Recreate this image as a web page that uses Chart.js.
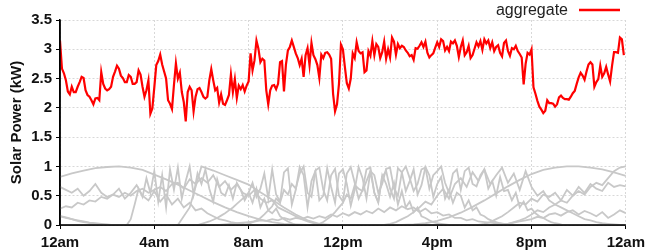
<!DOCTYPE html>
<html>
<head>
<meta charset="utf-8">
<script src="https://cdn.jsdelivr.net/npm/chart.js@4.4.1/dist/chart.umd.min.js"></script>
<style>
html,body{margin:0;padding:0;background:#fff;}
#wrap{width:650px;height:251px;position:relative;}
</style>
</head>
<body>
<div id="wrap"><canvas id="c" width="650" height="251"></canvas></div>
<script>
// ---- data ----
const tickLabels = ['12am','4am','8am','12pm','4pm','8pm','12am'];
const tickHours = [0,4,8,12,16,20,24];

// aggregate, 5-minute samples from 12am
const aggregateStepMin = 5;
const aggregate = [
3.15,2.67,2.59,2.47,2.28,2.23,2.36,2.27,2.27,2.36,
2.44,2.53,2.51,2.30,2.22,2.19,2.13,2.06,2.16,2.17,
2.13,2.61,2.41,2.33,2.30,2.32,2.36,2.53,2.62,2.72,
2.67,2.55,2.51,2.44,2.44,2.56,2.53,2.41,2.41,2.44,
2.64,2.57,2.36,2.19,2.30,2.47,1.90,1.99,2.35,
2.73,2.80,2.91,2.74,2.62,2.50,2.13,2.07,1.98,2.39,
2.76,2.50,2.60,2.27,2.10,1.77,2.27,2.36,2.30,1.94,
2.19,2.32,2.34,2.27,2.19,2.16,2.19,2.47,2.66,2.47,
2.30,2.34,2.09,2.23,2.07,2.05,2.13,2.22,2.57,2.27,
2.49,2.17,2.38,2.32,2.39,2.28,2.38,2.45,
2.93,2.64,2.81,3.15,3.01,2.78,2.84,2.81,2.30,2.06,
2.30,2.38,2.39,2.32,2.41,2.78,2.80,2.28,2.74,2.98,
3.04,3.15,3.04,2.93,2.85,2.73,2.84,2.53,2.90,3.02,
2.73,3.11,2.90,2.83,2.73,2.51,2.91,2.85,2.94,2.95,
2.91,2.84,2.24,1.94,2.06,2.41,3.08,3.00,
2.70,2.42,2.33,2.50,2.93,2.85,3.12,2.97,2.93,2.95,
2.61,2.64,2.97,2.89,3.14,2.90,3.09,3.04,2.85,2.95,
3.13,2.84,3.00,2.86,3.20,3.13,2.91,3.09,3.02,3.06,
3.04,2.98,2.94,2.88,2.90,2.82,3.02,3.01,3.06,3.12,
3.04,3.13,2.94,2.86,2.90,2.93,3.03,3.12,
3.04,3.17,3.14,2.98,3.04,2.97,3.13,3.10,3.15,3.06,
2.87,3.04,3.15,2.90,2.95,3.06,2.85,2.90,3.01,3.12,
3.05,3.14,2.99,3.17,3.10,3.15,3.02,3.12,2.97,3.04,
3.07,2.94,2.88,3.11,3.15,2.97,2.89,3.02,3.00,3.06,
2.97,2.92,2.86,2.40,2.75,2.94,2.91,3.00,
2.35,2.24,2.12,2.02,1.97,1.91,1.95,2.13,2.08,2.08,
2.07,2.02,2.06,2.18,2.21,2.17,2.15,2.15,2.14,2.19,
2.25,2.29,2.41,2.52,2.60,2.55,2.48,2.62,2.74,2.78,
2.74,2.36,2.44,2.49,2.72,2.53,2.59,2.70,2.57,2.45,
2.72,2.95,2.95,2.94,3.20,3.17,2.90
];

// individual systems (grey), 30-minute samples
const sys30StepMin = 30;
const sysA = [0.82,0.88,0.93,0.97,0.99,1.00,0.98,0.94,0.86,0.78,0.69,0.59,0.49,0.39,0.30,0.22,0.15,0.09,0.05,0.02,0.01,
0,0,0,0,0,0,0,0,0,
0.01,0.03,0.07,0.13,0.21,0.31,0.42,0.54,0.66,0.77,0.87,0.94,0.98,1.00,1.00,0.98,0.95,0.90,0.84];
const sysB = [0,0,0,0,0,0,0,0,0,0,0,0.30,
1.00,0.93,0.85,0.77,0.69,0.56,0.43,0.30,0.18,0.08,0.02,
0,0,0,0,0,0,0,0,0,0,0,0,0,0,0,0,0,0,0,0,0,0,0,0,0,0];

// individual systems (grey), 10-minute samples
const sys10StepMin = 10;
const sysC = [
0.15,0.14,0.12,0.10,0.08,0.06,0.05,0.04,0.03,0.02,0.02,0.01,0.01,0,0,0,0,0,
0.10,0.35,0.62,0.48,0.80,0.55,
0.92,0.40,0.85,0.30,0.95,0.60,
0.98,0.45,0.75,1.00,0.52,0.88,
0.70,0.95,0.62,0.40,0.78,0.55,
0.50,0.68,0.45,0.72,0.60,0.42,
0.55,0.38,0.62,0.30,0.45,0.25,
0.20,0.28,0.15,0.10,0.06,0.03,
0,0,0,0,0,0,0,0,0,0,0,0,0,0,0,0,0,0,0,0,0,0,0,0,0,0,0,0,0,0,0,0,0,0,0,0,0,0,0,0,0,0,0,0,0,0,0,0,0,0,0,0,0,0,0,0,0,0,0,0,0,0,0,0,0,0,0,0,0,0,0,0,0,0,0,0,0,0,0,0,0,0,0,0,0
];
const sysD = [
0,0,0,0,0,0,0,0,0,0,0,0,0,0,0,0,0,0,0,0,0,0,0,0,0,0,0,0,0,0,0,0,0,0,0,0,
0.02,0.04,0.06,0.09,0.12,0.16,
0.20,0.25,0.30,0.36,0.42,0.48,
0.55,0.72,0.48,0.62,0.88,0.45,
0.95,0.52,0.40,0.90,0.97,0.35,
0.60,0.99,0.85,0.30,0.75,0.92,
0.42,0.50,0.97,0.65,0.38,0.88,
0.95,0.70,0.33,0.60,0.99,0.80,
0.45,0.92,0.55,0.38,0.85,0.70,
0.48,0.72,0.35,0.58,0.30,0.40,
0.22,0.30,0.15,0.12,0.08,0.05,
0.03,0.02,0.01,0,0,0,0,0,0,0,0,0,0,0,0,0,0,0,0,0,0,0,0,0,0,0,0,0,0,0,0,0,0,0,0,0,0,0,0,0,0,0,0,0,0,0,0,0,0
];
const sysE = [
0,0,0,0,0,0,0,0,0,0,0,0,0,0,0,0,0,0,0,0,0,0,0,0,0,0,0,0,0,0,0,0,0,0,0,0,0,0,0,0,0,0,0,0,0,0,0,0,
0.02,0.05,0.08,0.12,0.18,0.25,
0.32,0.45,0.38,0.60,0.52,0.70,
0.62,0.88,1.00,0.55,0.48,0.93,
0.98,0.60,0.42,0.85,0.96,0.50,
0.40,0.88,0.99,0.72,0.45,0.60,
0.95,0.98,0.55,0.40,0.82,0.92,
0.62,0.45,0.97,0.90,0.58,0.75,
0.95,0.52,0.68,0.99,0.85,0.48,
0.70,0.82,0.45,0.60,0.38,0.55,
0.50,0.30,0.42,0.25,0.30,0.18,
0.15,0.10,0.07,0.05,0.03,0.02,
0,0,0,0,0,0,0,0,0,0,0,0,0,0,0,0,0,0,0,0,0,0,0,0,0,0,0,0,0,0,0
];
const sysF = [
0,0,0,0,0,0,0,0,0,0,0,0,0,0,0,0,0,0,0,0,0,0,0,0,0,0,0,0,0,0,0,0,0,0,0,0,0,0,0,0,0,0,0,0,0,0,0,0,0,0,0,0,0,0,0,0,0,0,0,0,0,0,0,0,0,0,
0.02,0.05,0.10,0.15,0.22,0.30,
0.38,0.52,0.45,0.68,0.62,0.58,
0.75,0.92,0.85,0.55,0.70,0.96,
0.98,0.62,0.50,0.90,1.00,0.80,
0.58,0.70,0.95,0.98,0.62,0.85,
0.92,1.00,0.72,0.55,0.88,0.95,
0.60,0.92,0.98,0.70,0.66,0.85,
0.95,0.62,0.75,0.50,0.82,0.58,
0.60,0.42,0.55,0.30,0.40,0.25,
0.28,0.20,0.15,0.12,0.08,0.05,
0.03,0.02,0,0,0,0,0,0,0,0,0,0,0,0,0,0,0,0,0
];

// individual systems (grey), 15-minute samples
const sys15StepMin = 15;
const sysG = [
0.65,0.60,0.55,0.62, 0.50,0.58,0.70,0.55, 0.48,0.52,0.62,0.45, 0.55,0.68,0.50,0.42,
0.58,0.40,0.52,0.35, 0.45,0.30,0.38,0.25, 0.28,0.20,0.15,0.10, 0.08,0.05,0.03,0.02,
0,0,0,0,0,0,0,0,0,0,0,0,0,0,0,0,0,0,0,0,0,0,0,0,0,0,0,0,0,0,0,0,0,0,0,0,0,0,0,0,
0.02,0.05,0.10,0.15, 0.22,0.30,0.38,0.35,
0.45,0.40,0.52,0.48, 0.55,0.42,0.60,0.50, 0.65,0.55,0.70,0.62, 0.58,0.72,0.65,0.68, 0.66
];
const sysH = [
0.28,0.32,0.30,0.38, 0.35,0.42,0.40,0.48, 0.45,0.52,0.48,0.55, 0.50,0.58,0.62,0.55,
0.60,0.65,0.58,0.70, 0.72,0.62,0.78,0.70, 0.80,0.72,0.85,0.65, 0.75,0.60,0.70,0.55,
0.50,0.60,0.45,0.38, 0.42,0.30,0.25,0.20, 0.15,0.10,0.06,0.03,
0,0,0,0,0,0,0,0,0,0,0,0,0,0,0,0,0,0,0,0,0,0,0,0,0,0,0,0,0,0,0,0,
0.02,0.04,0.06,0.08, 0.10,0.14,0.12,0.18, 0.20,0.16,0.22,0.25, 0.18,0.24,0.20,0.15, 0.22,0.12,0.18,0.25, 0.20
];
const sysI = [
0.15,0.12,0.10,0.08, 0.06,0.04,0.03,0.02,
0,0,0,0,0,0,0,0,0,0,0,0,0,0,0,0,0,0,0,0,
0.01,0.02,0.03,0.04, 0.05,0.06,0.08,0.07, 0.10,0.08,0.12,0.09, 0.12,0.10,0.14,0.11,
0.15,0.12,0.18,0.14, 0.20,0.16,0.22,0.18, 0.24,0.20,0.28,0.22, 0.30,0.25,0.32,0.27,
0.30,0.22,0.28,0.20, 0.22,0.16,0.18,0.12, 0.12,0.08,0.10,0.06, 0.05,0.04,0.03,0.02,
0,0,0,0,0,0,0,0,0,0,0,0,0,0,0,0,0,0,0,0,0
];
const sysJ = [
0,0,0,0,0,0,0,0,0,0,0,0,0,0,0,0,0,0,0,0,0,0,0,0,0,0,0,0,0,0,0,0,0,0,0,0,0,0,
0,0,0,0,0,0,0,0,0,0,0,0,0,0,0,0,0,0,0,0,0,0,0,0,0,0,0,0,0,0,0,0,0,0,0,0,0,0,
0.02,0.05,0.08,0.12, 0.18,0.25,0.22,0.30, 0.35,0.42,0.38,0.50, 0.58,0.52,0.65,0.72, 0.68,0.80,0.92,0.98, 1.00
];
const sysK = [
0,0,0,0,0,0,0,0,0,0,0,0,0,0,0,0,0,0,0,0,0,0,0,0,0,0,0,0,
0,0,0,0,0,0,0,0,0,0,0,0,0,0,0,0,0,0,0,0,0,0,0,0,0,0,0,0,
0.02,0.05,0.10,0.15, 0.22,0.30,0.40,0.35, 0.50,0.62,0.45,0.70, 0.80,0.65,0.90,0.75,
0.95,0.70,0.85,0.98, 0.72,0.88,0.60,0.92, 0.65,0.50,0.58,0.42, 0.35,0.30,0.25,0.20,
0.15,0.10,0.08,0.05, 0.03,0.02,0.01,0, 0
];

// ---- chart ----
const toXY = (vals, stepMin) => vals.map((v, i) => ({x: i * stepMin / 60, y: v}));
const grey = 'rgb(200,200,200)';
const greySeries = [
  [sysA, sys30StepMin],[sysB, sys30StepMin],
  [sysC, sys10StepMin],[sysD, sys10StepMin],[sysE, sys10StepMin],[sysF, sys10StepMin],
  [sysG, sys15StepMin],[sysH, sys15StepMin],[sysI, sys15StepMin],[sysJ, sys15StepMin],[sysK, sys15StepMin]
];
const datasets = [{
  label: 'aggregate',
  data: toXY(aggregate, aggregateStepMin),
  borderColor: 'rgb(255,0,0)',
  borderWidth: 2.2,
  pointRadius: 0,
  tension: 0,
  order: 0
}];
greySeries.forEach(([vals, step], k) => datasets.push({
  label: 'system ' + (k + 1),
  data: toXY(vals, step),
  borderColor: grey,
  borderWidth: 1.8,
  pointRadius: 0,
  tension: 0,
  order: 1
}));

const FONT = '"Liberation Sans", Arial, Helvetica, sans-serif';

const overlay = {
  id: 'overlay',
  afterDatasetsDraw(chart) {
    const {ctx, chartArea: a} = chart;
    ctx.save();
    ctx.strokeStyle = '#000';
    ctx.lineWidth = 1.5;
    ctx.beginPath();
    ctx.moveTo(a.left, a.top);
    ctx.lineTo(a.left, a.bottom);
    ctx.lineTo(a.right, a.bottom);
    ctx.stroke();
    // legend: text then line sample
    const ds = chart.data.datasets[0];
    ctx.font = '16px ' + FONT;
    ctx.fillStyle = '#222';
    ctx.textAlign = 'right';
    ctx.textBaseline = 'alphabetic';
    ctx.fillText(ds.label, 568, 15);
    ctx.strokeStyle = ds.borderColor;
    ctx.lineWidth = 2.5;
    ctx.beginPath();
    ctx.moveTo(579, 10);
    ctx.lineTo(620, 10);
    ctx.stroke();
    ctx.restore();
  }
};

new Chart(document.getElementById('c'), {
  type: 'line',
  data: {datasets},
  plugins: [overlay],
  options: {
    responsive: false,
    animation: false,
    devicePixelRatio: 1,
    layout: {padding: {top: 20, right: 21, left: 0, bottom: 0}},
    plugins: {legend: {display: false}, tooltip: {enabled: false}},
    scales: {
      x: {
        type: 'linear', min: 0, max: 24,
        afterFit(s) { s.height = 26; },
        afterBuildTicks(s) { s.ticks = tickHours.map(v => ({value: v})); },
        ticks: {
          callback: (v) => tickLabels[tickHours.indexOf(v)],
          font: {family: FONT, size: 15, weight: 'bold'},
          color: '#111', padding: 5, maxRotation: 0, autoSkip: false
        },
        grid: {color: '#d8d8d8', lineWidth: 1, tickColor: '#000', tickLength: 4, tickBorderDash: [], drawTicks: true},
        border: {display: true, color: '#000', width: 1.5, dash: [2,2]}
      },
      y: {
        min: 0, max: 3.5,
        afterFit(s) { s.width = 60; },
        ticks: {
          stepSize: 0.5,
          callback: (v) => String(v),
          font: {family: FONT, size: 15, weight: 'bold'},
          color: '#111', padding: 4
        },
        title: {display: true, text: 'Solar Power (kW)', font: {family: FONT, size: 15, weight: 'bold'}, color: '#111', padding: {top: 8, bottom: 0}},
        grid: {color: '#d8d8d8', lineWidth: 1, tickColor: '#000', tickLength: 4, tickBorderDash: []},
        border: {display: true, color: '#000', width: 1.5, dash: [2,2]}
      }
    }
  }
});
</script>
</body>
</html>
